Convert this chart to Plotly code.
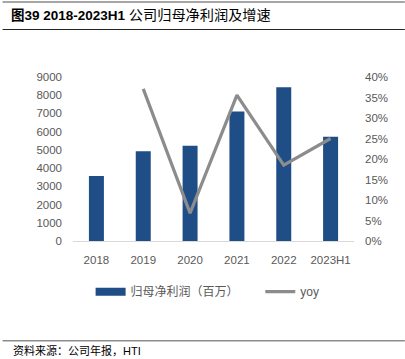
import plotly.graph_objects as go

categories = ["2018", "2019", "2020", "2021", "2022", "2023H1"]
net_profit = [3570, 4920, 5230, 7100, 8440, 5725]
yoy_categories = ["2019", "2020", "2021", "2022", "2023H1"]
yoy = [0.371, 0.068, 0.356, 0.185, 0.250]
left_ticks = list(range(0, 9001, 1000))
right_ticks = [0, 0.05, 0.10, 0.15, 0.20, 0.25, 0.30, 0.35, 0.40]

title_text = ("<b>图39 2018-2023H1</b> "
              "<span style='font-size:14.2px'>公司归母净利润及增速</span>")
source_text = "资料来源：公司年报，HTI"
bar_name = "归母净利润（百万）"
line_name = "yoy"

BAR_COLOR = "#1F4E86"
LINE_COLOR = "#8C8C8C"
TXT = "#595959"
FONT = "Liberation Sans, Noto Sans CJK SC, sans-serif"

W, H = 405, 359
ML, MR, MT, MB = 73.4, 50.8, 77, 118
PW = W - ML - MR
PH = H - MT - MB


def px(x):
    return (x - ML) / PW


def py(y):
    return (H - MB - y) / PH


fig = go.Figure()
fig.add_trace(go.Bar(
    x=categories, y=net_profit, marker=dict(color=BAR_COLOR, line=dict(width=0)),
    width=0.32, showlegend=False, legendgroup="bar", name=bar_name,
))
# legend proxy for the bar series (wide swatch like the reference)
fig.add_trace(go.Scatter(
    x=[None], y=[None], mode="lines", line=dict(color=BAR_COLOR, width=8),
    name=bar_name + "\u00a0" * 5, legendgroup="bar", showlegend=True,
))
fig.add_trace(go.Scatter(
    x=yoy_categories, y=yoy, mode="lines", yaxis="y2",
    line=dict(color=LINE_COLOR, width=3.2), name=line_name,
))

tickfont = dict(family=FONT, size=11.5, color=TXT)

fig.update_layout(
    width=W, height=H,
    margin=dict(l=ML, r=MR, t=MT, b=MB, autoexpand=False),
    paper_bgcolor="white", plot_bgcolor="white",
    font=dict(family=FONT, color=TXT),
    xaxis=dict(
        type="category", categoryorder="array", categoryarray=categories,
        showline=True, linecolor="#D9D9D9", linewidth=1, showgrid=False,
        ticks="", tickfont=tickfont, ticklabelstandoff=8, zeroline=False,
    ),
    yaxis=dict(
        range=[0, 9000], tickvals=left_ticks, showgrid=False, zeroline=False,
        showline=False, ticks="", tickfont=tickfont, ticklabelstandoff=10,
    ),
    yaxis2=dict(
        range=[0, 0.4], tickvals=right_ticks, tickformat=".0%", overlaying="y",
        side="right", showgrid=False, zeroline=False, showline=False, ticks="",
        tickfont=tickfont, ticklabelstandoff=10,
    ),
    legend=dict(
        orientation="h", x=px(91), xanchor="left", y=py(291.7), yanchor="middle",
        font=dict(family=FONT, size=12, color=TXT), bgcolor="rgba(0,0,0,0)",
        itemwidth=30, traceorder="normal",
    ),
    bargap=0.68,
)

fig.add_annotation(
    text=title_text, xref="paper", yref="paper", x=px(9), y=py(14.5),
    xanchor="left", yanchor="middle", showarrow=False,
    font=dict(family=FONT, size=13.5, color="#000000"),
)
fig.add_annotation(
    text=source_text, xref="paper", yref="paper", x=px(11), y=py(350),
    xanchor="left", yanchor="middle", showarrow=False,
    font=dict(family=FONT, size=11, color="#000000"),
)

shapes = [
    dict(type="line", xref="paper", yref="paper", x0=px(3), x1=px(405),
         y0=py(2), y1=py(2), line=dict(color="#A6A6A6", width=2)),
    dict(type="line", xref="paper", yref="paper", x0=px(3), x1=px(405),
         y0=py(29.5), y1=py(29.5), line=dict(color="#262626", width=1)),
    dict(type="line", xref="paper", yref="paper", x0=px(3), x1=px(405),
         y0=py(340.7), y1=py(340.7), line=dict(color="#8C8C8C", width=1.5)),
]
fig.update_layout(shapes=shapes)

fig.write_html(
    "out.html",
    config={"displayModeBar": False},
    post_script="document.body.style.margin='0';document.body.style.padding='0';",
)
